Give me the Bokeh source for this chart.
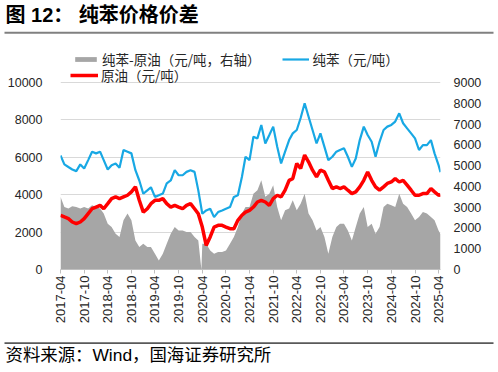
import pandas as pd
from bokeh.plotting import figure
from bokeh.layouts import column
from bokeh.models import (Range1d, LinearAxis, FixedTicker, DatetimeTickFormatter,
                          Legend, LegendItem, Plot)
from bokeh.embed import file_html
from bokeh.resources import INLINE
from bokeh.core.properties import value

# ---------------- data ----------------
first_month = "2017-04-01"
n_months = 97
last_date = "2025-04-16"

# 纯苯 (元/吨), left axis, monthly from 2017-04 + last point
benzene = [6100, 5620, 5480, 5350, 5260, 5620, 5400, 5850, 6300, 6210, 6300, 5850,
           5350, 5580, 5670, 5440, 6390, 6300, 6210, 5310, 4760, 4050, 4230, 4400,
           3880, 3970, 4060, 4600, 4760, 5310, 5040, 5040, 5220, 5310, 5220, 4230,
           2980, 3160, 3250, 2800, 3070, 3160, 3250, 3340, 3880, 3970, 4950, 6030,
           5850, 7100, 7010, 7730, 6740, 7190, 7640, 6560, 5670, 6300, 6920, 7280,
           7460, 8100, 8890, 8180, 7460, 6740, 7280, 6560, 5850, 6030, 6300, 6390,
           6480, 6030, 5490, 5940, 6920, 7640, 7190, 6830, 6030, 6830, 7460, 7640,
           7730, 7910, 8350, 7820, 7550, 7280, 7010, 6390, 6650, 6650, 6920, 6210,
           5580, 5200]

# 原油 (元/吨), left axis
crude = [2900, 2810, 2720, 2540, 2450, 2540, 2720, 2990, 3250, 3340, 3430, 3250,
         3520, 3790, 3880, 3790, 3880, 3970, 4150, 4420, 3700, 3070, 3250, 3520,
         3700, 3700, 3790, 3520, 3340, 3430, 3340, 3250, 3430, 3520, 3250, 2980,
         2270, 1290, 1740, 2270, 2360, 2360, 2270, 2180, 2180, 2630, 2900, 3070,
         3160, 3340, 3610, 3700, 3610, 3430, 3790, 3970, 3880, 4240, 4770, 4860,
         5670, 5400, 6120, 5760, 5310, 4950, 5310, 5220, 4770, 4330, 4420, 4330,
         4420, 4240, 4060, 4150, 4420, 4770, 5220, 4770, 4420, 4240, 4420, 4600,
         4680, 4860, 4680, 4770, 4510, 4240, 3970, 3970, 4060, 4060, 4330, 4150,
         3970, 4000]

# 纯苯-原油 (元/吨, right axis)
spread = [3500, 3010, 2930, 3040, 3010, 2930, 3010, 2930, 3090, 3010, 2930, 2690,
          2200, 2045, 1720, 1560, 2370, 2690, 2370, 1400, 1080, 1240, 1080, 1080,
          760, 430, 760, 1240, 1720, 2045, 1880, 1880, 1800, 1800, 1560, 1400,
          1240, 1240, 920, 760, 840, 840, 920, 1240, 1560, 2045, 2690, 3010,
          3010, 3650, 3810, 4300, 3500, 3650, 4050, 3010, 2370, 2850, 2930, 3330,
          2850, 3170, 3650, 2690, 2370, 1880, 2045, 1560, 760, 1560, 2045, 2200,
          2200, 1880, 1400, 2045, 2690, 3010, 2045, 2200, 1720, 2045, 3010, 3170,
          3090, 3010, 3650, 3170, 3010, 2690, 2370, 2530, 2770, 2690, 2530, 2370,
          1880, 1700]
spread_dip_date = "2020-03-25"
spread_dip = 0

left_ticks = [0, 2000, 4000, 6000, 8000, 10000]
right_ticks = [0, 1000, 2000, 3000, 4000, 5000, 6000, 7000, 8000, 9000]
x_tick_labels = ["2017-04", "2017-10", "2018-04", "2018-10", "2019-04", "2019-10",
                 "2020-04", "2020-10", "2021-04", "2021-10", "2022-04", "2022-10",
                 "2023-04", "2023-10", "2024-04", "2024-10", "2025-04"]

title_text = "图 12： 纯苯价格价差"
legend_spread = "纯苯-原油（元/吨，右轴）"
legend_benzene = "纯苯（元/吨）"
legend_crude = "原油（元/吨）"
source_text = "资料来源：Wind，国海证券研究所"

# ---------------- helpers ----------------
dates = list(pd.date_range(first_month, periods=n_months, freq="MS")) + [pd.Timestamp(last_date)]
spread_pts = sorted(list(zip(dates, spread)) + [(pd.Timestamp(spread_dip_date), spread_dip)])
spread_x = [d for d, _ in spread_pts]
spread_y = [v for _, v in spread_pts]


def ms(ts):
    return pd.Timestamp(ts).value / 1e6


FONT = "Liberation Sans, Noto Sans CJK SC"
CJK = "Noto Sans CJK SC"
TXT = "#262626"
W = 496
HAS_FA = "frame_align" in Plot.properties()


def no_align(f):
    if HAS_FA:
        f.frame_align = False


def deco_fig(h):
    f = figure(width=W, height=h, x_range=Range1d(0, W), y_range=Range1d(0, h),
               output_backend="svg", toolbar_location=None, title=None,
               x_axis_location=None, y_axis_location=None, min_border=0,
               min_border_left=0, min_border_right=0, min_border_top=0,
               min_border_bottom=0)
    f.grid.visible = False
    f.outline_line_color = None
    f.background_fill_color = "white"
    f.border_fill_color = "white"
    no_align(f)
    return f


# ---------------- title strip (page y 0..40) ----------------
TOP_H = 40
top = deco_fig(TOP_H)
top.quad(left=[4], right=[493], bottom=[TOP_H - 33.2], top=[TOP_H - 31.2],
         fill_color="#808080", line_color=None)
top.text(x=[5], y=[TOP_H - 14.5], text=[title_text], text_font=value(FONT),
         text_font_size="20px", text_font_style="bold", text_baseline="middle",
         text_color="black")

# ---------------- main chart (page y 40..332) ----------------
MAIN_H = 292
TOP_BORDER = 6           # frame top at page y 46
BOTTOM_BORDER = 63       # frame bottom at page y 269
frame_h = MAIN_H - TOP_BORDER - BOTTOM_BORDER
grid_h = 187             # pixels from 0 to 10000
y_top = 10000 * frame_h / grid_h

p = figure(width=W, height=MAIN_H, x_axis_type="datetime", title=None,
           x_range=Range1d(ms(first_month), ms(last_date)),
           y_range=Range1d(0, y_top),
           output_backend="svg", toolbar_location=None,
           min_border_left=60, min_border_right=W - 440,
           min_border_top=TOP_BORDER, min_border_bottom=BOTTOM_BORDER)
no_align(p)
p.extra_y_ranges = {"right": Range1d(0, 9000 * frame_h / grid_h)}
p.outline_line_color = None
p.background_fill_color = "white"
p.border_fill_color = "white"

p.xgrid.grid_line_color = None
p.ygrid.grid_line_color = "#d9d9d9"
p.ygrid.grid_line_width = 1
p.ygrid.ticker = FixedTicker(ticks=left_ticks)

r_spread = p.varea(x=spread_x, y1=0, y2=spread_y, y_range_name="right",
                   fill_color="#a6a6a6")
r_benz = p.line(dates, benzene, line_color="#18a8e4", line_width=2.2)
r_crude = p.line(dates, crude, line_color="#ff0000", line_width=3.5)

la = p.yaxis[0]
la.ticker = FixedTicker(ticks=left_ticks)
la.axis_line_color = None
la.major_tick_line_color = None
la.minor_tick_line_color = None
la.major_tick_out = 0
la.major_tick_in = 0
la.major_label_standoff = 18
la.major_label_text_font = FONT
la.major_label_text_font_size = "12.5px"
la.major_label_text_color = TXT

ra = LinearAxis(y_range_name="right", ticker=FixedTicker(ticks=right_ticks))
ra.axis_line_color = None
ra.major_tick_line_color = None
ra.minor_tick_line_color = None
ra.major_tick_out = 0
ra.major_tick_in = 0
ra.major_label_standoff = 13
ra.major_label_text_font = FONT
ra.major_label_text_font_size = "12.5px"
ra.major_label_text_color = TXT
p.add_layout(ra, "right")

xa = p.xaxis[0]
xa.ticker = FixedTicker(ticks=[ms(l + "-01") for l in x_tick_labels])
fmt = "%Y-%m"
xa.formatter = DatetimeTickFormatter(milliseconds=fmt, seconds=fmt, minsec=fmt, minutes=fmt,
                                     hourmin=fmt, hours=fmt, days=fmt, months=fmt, years=fmt)
xa.axis_line_color = "#bfbfbf"
xa.major_tick_line_color = "#bfbfbf"
xa.major_tick_in = 0
xa.major_tick_out = 4
xa.minor_tick_line_color = None
xa.major_label_orientation = 1.5708
xa.major_label_standoff = 2
xa.major_label_text_font = FONT
xa.major_label_text_font_size = "13px"
xa.major_label_text_color = TXT


def style_legend(lg, gw, gh, spacing):
    lg.orientation = "horizontal"
    lg.glyph_width = gw
    lg.glyph_height = gh
    lg.label_standoff = 3
    lg.spacing = spacing
    lg.padding = 0
    lg.margin = 0
    lg.border_line_color = None
    lg.background_fill_alpha = 0
    lg.label_text_font = CJK
    lg.label_text_font_size = "13.5px"
    lg.label_text_color = TXT
    lg.label_height = 13
    lg.label_text_baseline = "middle"


leg1 = Legend(items=[LegendItem(label=legend_spread, renderers=[r_spread]),
                     LegendItem(label=legend_benzene, renderers=[r_benz])],
              location=(12, 200))
style_legend(leg1, 27, 6, 22)
leg2 = Legend(items=[LegendItem(label=legend_crude, renderers=[r_crude])],
              location=(10, 184))
style_legend(leg2, 28, 6, 22)
p.add_layout(leg1)
p.add_layout(leg2)

# ---------------- source strip (page y 332..370) ----------------
BOT_H = 38
bot = deco_fig(BOT_H)
bot.quad(left=[4], right=[493], bottom=[BOT_H - 11.5], top=[BOT_H - 9.7],
         fill_color="#595959", line_color=None)
bot.text(x=[5], y=[BOT_H - 22], text=[source_text], text_font=value(FONT),
         text_font_size="17.4px", text_baseline="middle", text_color="black")

layout = column(top, p, bot, spacing=0)
open("out.html", "w").write(file_html(layout, INLINE))
